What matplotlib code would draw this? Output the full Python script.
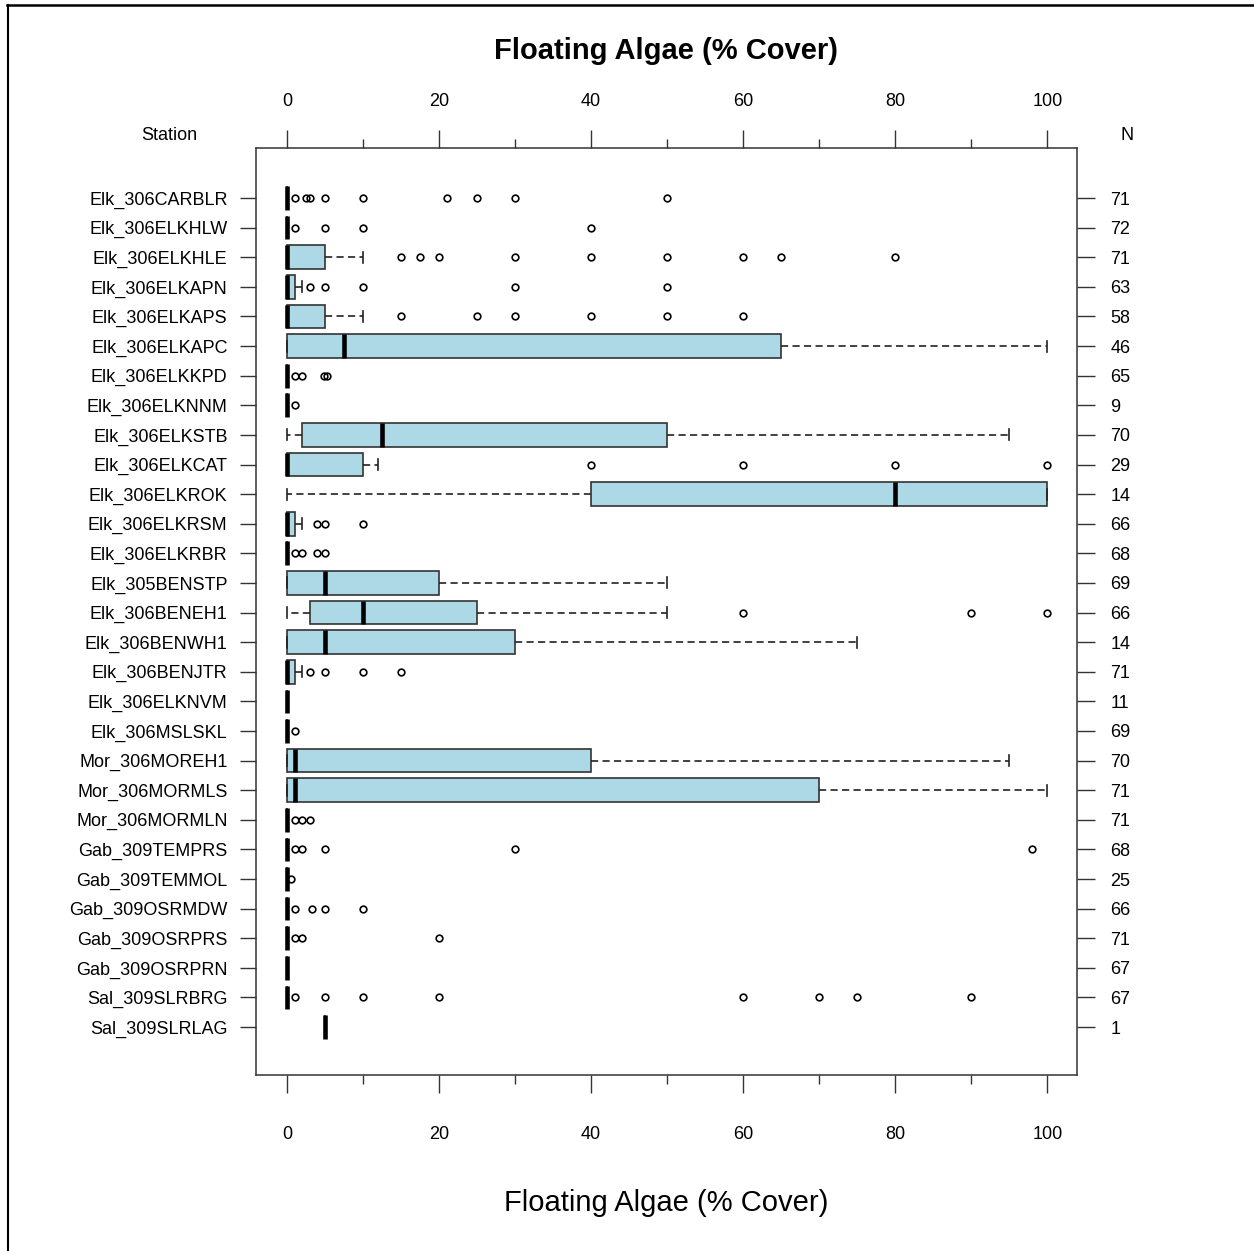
import matplotlib
matplotlib.use("Agg")
import matplotlib.pyplot as plt
from matplotlib.lines import Line2D

plt.rcParams['font.family'] = ['Liberation Sans', 'DejaVu Sans']

stations = ['Elk_306CARBLR', 'Elk_306ELKHLW', 'Elk_306ELKHLE', 'Elk_306ELKAPN',
            'Elk_306ELKAPS', 'Elk_306ELKAPC', 'Elk_306ELKKPD', 'Elk_306ELKNNM',
            'Elk_306ELKSTB', 'Elk_306ELKCAT', 'Elk_306ELKROK', 'Elk_306ELKRSM',
            'Elk_306ELKRBR', 'Elk_305BENSTP', 'Elk_306BENEH1', 'Elk_306BENWH1',
            'Elk_306BENJTR', 'Elk_306ELKNVM', 'Elk_306MSLSKL', 'Mor_306MOREH1',
            'Mor_306MORMLS', 'Mor_306MORMLN', 'Gab_309TEMPRS', 'Gab_309TEMMOL',
            'Gab_309OSRMDW', 'Gab_309OSRPRS', 'Gab_309OSRPRN', 'Sal_309SLRBRG',
            'Sal_309SLRLAG']
n_obs = [71, 72, 71, 63, 58, 46, 65, 9, 70, 29, 14, 66, 68, 69, 66, 14, 71, 11,
         69, 70, 71, 71, 68, 25, 66, 71, 67, 67, 1]

# box statistics (% cover)
q1 = [0, 0, 0, 0, 0, 0, 0, 0, 2, 0, 40, 0, 0, 0, 3, 0, 0, 0, 0, 0, 0, 0, 0, 0, 0, 0, 0, 0, 5]
med = [0, 0, 0, 0, 0, 7.5, 0, 0, 12.5, 0, 80, 0, 0, 5, 10, 5, 0, 0, 0, 1, 1, 0, 0, 0, 0, 0, 0, 0, 5]
q3 = [0, 0, 5, 1, 5, 65, 0, 0, 50, 10, 100, 1, 0, 20, 25, 30, 1, 0, 0, 40, 70, 0, 0, 0, 0, 0, 0, 0, 5]
wlo = [0, 0, 0, 0, 0, 0, 0, 0, 0, 0, 0, 0, 0, 0, 0, 0, 0, 0, 0, 0, 0, 0, 0, 0, 0, 0, 0, 0, 5]
whi = [0, 0, 10, 2, 10, 100, 0, 0, 95, 12, 100, 2, 0, 50, 50, 75, 2, 0, 0, 95, 100, 0, 0, 0, 0, 0, 0, 0, 5]
fliers = [
    [1, 2.5, 3, 5, 10, 21, 25, 30, 50],
    [1, 5, 10, 40],
    [15, 17.5, 20, 30, 40, 50, 60, 65, 80],
    [3, 5, 10, 30, 50],
    [15, 25, 30, 40, 50, 60],
    [],
    [1, 2, 4.8, 5.2],
    [1],
    [],
    [40, 60, 80, 100],
    [],
    [4, 5, 10],
    [1, 2, 4, 5],
    [],
    [60, 90, 100],
    [],
    [3, 5, 10, 15],
    [],
    [1],
    [],
    [],
    [1, 2, 3],
    [1, 2, 5, 30, 98],
    [0.5],
    [1, 3.3, 5, 10],
    [1, 2, 20],
    [],
    [1, 5, 10, 20, 60, 70, 75, 90],
    [],
]

xmajor = [0, 20, 40, 60, 80, 100]
xminor = [10, 30, 50, 70, 90]

W, H = 1254, 1251
fig = plt.figure(figsize=(W / 100, H / 100), dpi=100)
ax = fig.add_axes([256 / W, 1 - 1075 / H, (1077 - 256) / W, (1075 - 148) / H])

pos = list(range(1, len(stations) + 1))
stats = []
for i in range(len(stations)):
    stats.append(dict(q1=q1[i], med=med[i], q3=q3[i], whislo=wlo[i], whishi=whi[i],
                      fliers=fliers[i], label=stations[i]))

edge = '#333333'
ax.bxp(stats, positions=pos, widths=0.8, capwidths=0.37, orientation='horizontal',
       patch_artist=True,
       boxprops=dict(facecolor='#ADD8E6', edgecolor=edge, linewidth=1.2),
       medianprops=dict(color='black', linewidth=3.3, solid_capstyle='butt'),
       whiskerprops=dict(color='#222222', linewidth=1.2, linestyle=(0, (4.3, 2.6))),
       capprops=dict(color='#222222', linewidth=1.2),
       flierprops=dict(marker='o', markerfacecolor='none', markeredgecolor='black',
                       markersize=4.8, markeredgewidth=1.2))

ax.set_xlim(-4.08, 103.9)
ax.set_ylim(30.62, -0.69)

for s in ax.spines.values():
    s.set_color(edge)
    s.set_linewidth(1.1)

# bottom axis
ax.set_xticks(xmajor)
ax.set_xticks(xminor, minor=True)
ax.tick_params(axis='x', which='major', length=13, width=1.0, color=edge, pad=24,
               labelsize=13)
ax.tick_params(axis='x', which='minor', length=6.5, width=1.0, color=edge)

# top axis
top = ax.secondary_xaxis('top')
top.set_xticks(xmajor)
top.set_xticks(xminor, minor=True)
top.tick_params(axis='x', which='major', length=13, width=1.0, color=edge, pad=14,
                labelsize=13)
top.tick_params(axis='x', which='minor', length=6.5, width=1.0, color=edge)
top.spines['top'].set_visible(False)

# station labels on the left
ax.set_yticks(pos, stations)
ax.tick_params(axis='y', length=11.5, width=1.0, color=edge, pad=9, labelsize=13)

# N on the right
ax2 = ax.twinx()
ax2.set_ylim(ax.get_ylim())
ax2.set_yticks(pos, [str(n) for n in n_obs])
ax2.tick_params(axis='y', length=13, width=1.0, color=edge, pad=11, labelsize=13)
for s in ax2.spines.values():
    s.set_visible(False)

fig.text(169 / W, 1 - 135 / H, 'Station', ha='center', va='center', fontsize=13)
fig.text(1127 / W, 1 - 135 / H, 'N', ha='center', va='center', fontsize=13)
fig.text(666 / W, 1 - 51 / H, 'Floating Algae (% Cover)', ha='center', va='center',
         fontsize=21, fontweight='bold')
fig.text(666 / W, 1 - 1203 / H, 'Floating Algae (% Cover)', ha='center', va='center',
         fontsize=21)

# outer frame of the page
fig.add_artist(Line2D([7.5 / W, 7.5 / W], [0, 1 - 5 / H], color='black', lw=1.5))
fig.add_artist(Line2D([7 / W, 1], [1 - 5 / H, 1 - 5 / H], color='black', lw=1.8))

fig.savefig('out.png', dpi=100)
